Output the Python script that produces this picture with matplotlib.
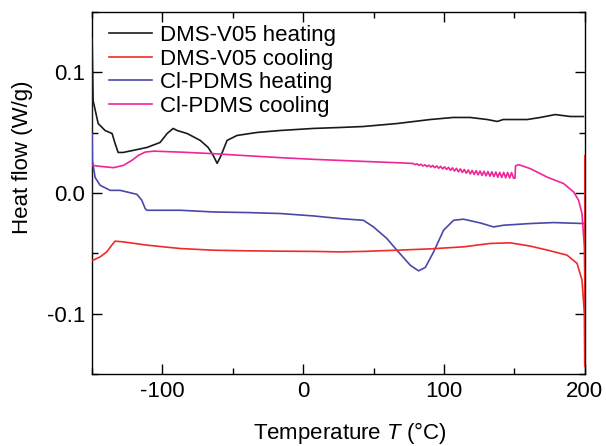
import matplotlib
matplotlib.use("Agg")
import matplotlib.pyplot as plt
from matplotlib.ticker import MultipleLocator

plt.rcParams['font.family'] = ['Liberation Sans', 'DejaVu Sans']
plt.rcParams['mathtext.fontset'] = 'custom'
plt.rcParams['mathtext.it'] = 'Liberation Sans:italic'
plt.rcParams['mathtext.rm'] = 'Liberation Sans'

# DMS-V05 heating
dms_heat_T = [-150.0, -150.0, -149.3, -145.7, -140.8, -135.8, -133.7, -131.5, -128.0, -120.9, -110.9,
              -101.7, -96.7, -92.4, -89.6, -82.5, -73.2, -67.6, -64.0, -61.2, -59.0, -54.1, -47.0,
              -32.7, -16.4, 7.1, 26.2, 42.6, 66.8, 90.2, 106.6, 118.6, 130.7, 137.8, 142.1, 159.1,
              168.4, 179.0, 189.7, 199.0]
dms_heat_Y = [-0.050, 0.128, 0.0766, 0.0576, 0.0518, 0.0493, 0.0411, 0.0336, 0.0336, 0.0353, 0.0378,
              0.0419, 0.0493, 0.0535, 0.0518, 0.0493, 0.0436, 0.0378, 0.0312, 0.0246, 0.0295, 0.0436, 0.0477,
              0.0502, 0.0518, 0.0535, 0.0543, 0.0551, 0.0576, 0.0609, 0.0626, 0.0626, 0.0609, 0.0593, 0.0609, 0.0609,
              0.0626, 0.0650, 0.0634, 0.0634]

# DMS-V05 cooling
dms_cool_T = [200.0, 200.0, 199.7, 198.0, 194.5, 187.4, 175.5, 161.3, 147.1, 132.8, 113.9, 90.2, 66.5,
              42.6, 26.2, 7.3, -16.4, -40.0, -63.8, -87.5, -111.1, -127.8, -133.7, -136.0, -139.6,
              -144.3, -149.1, -150.0]
dms_cool_Y = [0.031, -0.1438, -0.0994, -0.0721, -0.0583, -0.0515, -0.0479, -0.0440, -0.0413, -0.0418,
              -0.0446, -0.0463, -0.0474, -0.0484, -0.0488, -0.0484, -0.0482, -0.0479, -0.0474, -0.0460,
              -0.0432, -0.0405, -0.0399, -0.0432, -0.0488, -0.0529, -0.0556, -0.0560]

# Cl-PDMS heating
cl_heat_T = [-150.0, -149.8, -147.9, -144.3, -137.2, -130.1, -118.2, -114.7, -112.3, -111.1, -87.5,
             -63.8, -40.0, -16.4, 7.3, 26.2, 42.7, 49.9, 59.4, 66.5, 76.0, 81.9, 86.7, 92.6, 99.7,
             106.8, 113.9, 125.7, 135.2, 142.3, 161.3, 177.8, 199.2]
cl_heat_Y = [0.0493, 0.027, 0.013, 0.0064, 0.0022, 0.0022, -0.0011, -0.006, -0.0129, -0.0143, -0.0143,
             -0.0157, -0.0162, -0.017, -0.019, -0.0212, -0.0226, -0.0281, -0.0377, -0.0474, -0.0598,
             -0.0645, -0.0617, -0.0488, -0.0308, -0.0226, -0.0217, -0.0248, -0.0281, -0.0267, -0.0253,
             -0.0245, -0.0253]

# Cl-PDMS cooling
cl_cool_T = [200.0, 199.7, 198.0, 195.6, 192.1, 185.0, 173.2, 161.3, 153.0, 150.8, 150.4,
             149.4, 148.0, 146.6, 145.2, 143.8, 142.4, 141.0, 139.6, 138.2, 136.8, 135.4, 134.0,
             132.6, 131.2, 129.8, 128.4, 127.0, 125.6, 124.2, 122.8, 121.4, 120.0, 118.6, 117.2,
             115.8, 114.4, 113.0, 111.6, 110.2, 108.8, 107.4, 106.0, 104.6, 103.2, 101.8, 100.4,
             99.0, 97.6, 96.2, 94.8, 93.4, 92.0, 90.6, 89.2, 87.8, 86.4, 85.0, 83.6, 82.2, 80.8,
             79.4, 78.0, 66.5, 42.8, 26.2, 7.3, -16.4, -40.0, -63.8, -87.5, -106.4, -112.3, -117.1,
             -121.8, -127.8, -134.9, -144.3, -149.8]
cl_cool_Y = [-0.072, -0.0446, -0.017, -0.006, 0.0008, 0.0078, 0.0132, 0.0202, 0.0235, 0.0225, 0.0123,
             0.0123, 0.0170, 0.0124, 0.0170, 0.0126, 0.0171, 0.0129, 0.0171, 0.0131, 0.0174, 0.0135, 0.0176,
             0.0139, 0.0178, 0.0142, 0.0180, 0.0146, 0.0182, 0.0150, 0.0185, 0.0154, 0.0187, 0.0158, 0.0191,
             0.0164, 0.0195, 0.0170, 0.0200, 0.0176, 0.0205, 0.0182, 0.0209, 0.0188, 0.0213, 0.0195, 0.0217,
             0.0200, 0.0221, 0.0205, 0.0225, 0.0210, 0.0228, 0.0215, 0.0231, 0.0219, 0.0234, 0.0224, 0.0238,
             0.0230, 0.0242, 0.0235, 0.0245, 0.0251, 0.0262, 0.0270, 0.0279, 0.0293, 0.0309, 0.0326, 0.0339,
             0.0347, 0.0339, 0.0312, 0.0270, 0.0229, 0.0210, 0.0221, 0.0229]

labels = ['DMS-V05 heating', 'DMS-V05 cooling', 'Cl-PDMS heating', 'Cl-PDMS cooling']
colors = ['#1a1a1a', '#ee2a2a', '#4a48a8', '#f0259a']
xticks = [-100, 0, 100, 200]
xticklabels = ['-100', '0', '100', '200']
yticks = [-0.1, 0.0, 0.1]
yticklabels = ['-0.1', '0.0', '0.1']

fig = plt.figure(figsize=(6.06, 4.46), dpi=100)
ax = fig.add_axes([0.152, 0.1614, 0.813, 0.8117])

ax.plot(dms_heat_T, dms_heat_Y, color=colors[0], lw=1.2, label=labels[0], zorder=3)
ax.plot(dms_cool_T, dms_cool_Y, color=colors[1], lw=1.2, label=labels[1], zorder=5)
ax.plot(cl_heat_T, cl_heat_Y, color=colors[2], lw=1.2, label=labels[2], zorder=3)
ax.plot(cl_cool_T, cl_cool_Y, color=colors[3], lw=1.2, label=labels[3], zorder=4)

ax.set_xlim(-150, 200)
ax.set_ylim(-0.15, 0.15)
ax.xaxis.set_minor_locator(MultipleLocator(50))
ax.yaxis.set_minor_locator(MultipleLocator(0.05))
ax.set_xticks(xticks)
ax.set_xticklabels(xticklabels)
ax.set_yticks(yticks)
ax.set_yticklabels(yticklabels)
ax.tick_params(which='both', direction='in', top=True, right=True, labelsize=16, width=1)
ax.tick_params(which='major', length=7, pad=5)
ax.tick_params(which='minor', length=4)
for s in ax.spines.values():
    s.set_linewidth(1.0)

ax.set_xlabel(r'Temperature $T$ (°C)', fontsize=16)
ax.set_ylabel('Heat flow (W/g)', fontsize=16)
ax.xaxis.set_label_coords(0.523, -0.127)
ax.yaxis.set_label_coords(-0.12, 0.60)

ax.legend(loc='upper left', bbox_to_anchor=(0.011, 0.995), frameon=False, fontsize=16,
          handlelength=1.95, handletextpad=0.35, labelspacing=0.12, borderaxespad=0.3,
          borderpad=0.2)

fig.savefig('out.png', dpi=100)
